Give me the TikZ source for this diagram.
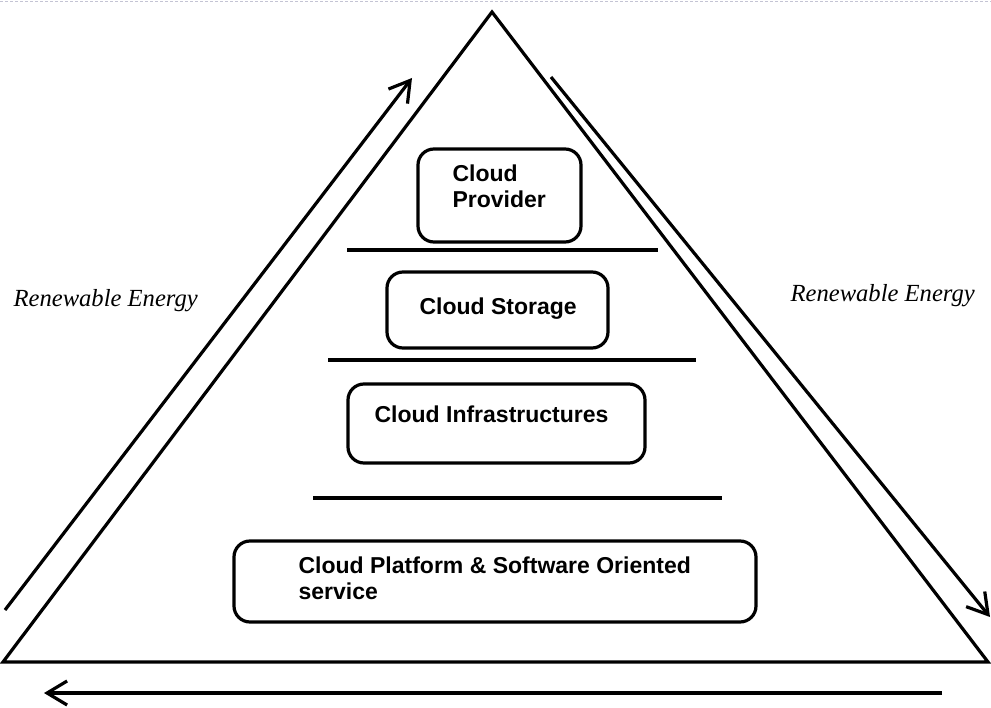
\documentclass[tikz,border=0pt]{standalone}
\usepackage{fontspec}
\setmainfont{Liberation Serif}
\setsansfont{Liberation Sans}
\usetikzlibrary{arrows.meta}

\begin{document}
\begin{tikzpicture}[x=1pt, y=-1pt, line width=3.2pt,
		cbox/.style={draw, rounded corners=16pt, anchor=north west, inner sep=0pt, outer sep=0pt},
		ctext/.style={anchor=north west, inner sep=0pt, align=left, font=\sffamily\bfseries\fontsize{23}{26}\selectfont},
		energy/.style={anchor=base west, inner sep=0pt, font=\itshape\fontsize{24.6}{28}\selectfont},
		flow/.style={-{Straight Barb[length=20pt,width=24pt,line width=3.2pt]}}]
	\useasboundingbox (0,0) rectangle (991,708);
	\draw[line width=0.8pt, dash pattern=on 3pt off 2pt, blue!15!gray!40] (0,1) -- (991,1);
	% pyramid
	\coordinate (apex) at (492,12);
	\coordinate (bl) at (3,662);
	\coordinate (br) at (988,662);
	\draw[line join=miter] (apex) -- (bl) -- (br) -- cycle;
	% layers
	\node[cbox, minimum width=163pt, minimum height=93pt] (provbox) at (418,149) {};
	\node[ctext] (prov) at (451,163) {Cloud\\Provider};
	\coordinate (l1a) at (347,250);
	\coordinate (l1b) at (658,250);
	\draw (l1a) -- (l1b);
	\node[cbox, minimum width=221pt, minimum height=76pt] (storbox) at (387,272) {};
	\node[ctext] (stor) at (418,296) {Cloud Storage};
	\coordinate (l2a) at (328,360);
	\coordinate (l2b) at (696,360);
	\draw (l2a) -- (l2b);
	\node[cbox, minimum width=297pt, minimum height=79pt] (infrabox) at (348,384) {};
	\node[ctext] (infra) at (373,404) {Cloud Infrastructures};
	\coordinate (l3a) at (313,498);
	\coordinate (l3b) at (722,498);
	\draw (l3a) -- (l3b);
	\node[cbox, minimum width=522pt, minimum height=81pt] (platbox) at (234,541) {};
	\node[ctext] (plat) at (297,555) {Cloud Platform \& Software Oriented\\service};
	% energy flow
	\coordinate (upa) at (5,610);
	\coordinate (upb) at (412,78);
	\draw[flow] (upa) -- (upb);
	\coordinate (dna) at (551,77);
	\coordinate (dnb) at (990,617);
	\draw[flow] (dna) -- (dnb);
	\coordinate (bta) at (942,693);
	\coordinate (btb) at (44,693);
	\draw[flow] (bta) -- (btb);
	\node[energy] (renl) at (12,307) {Renewable Energy};
	\node[energy] (renr) at (789,302) {Renewable Energy};
\end{tikzpicture}
\end{document}
